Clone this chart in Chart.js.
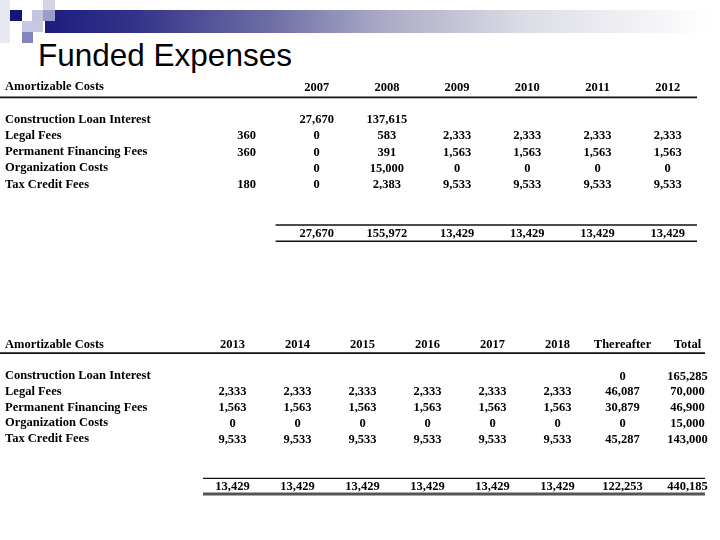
<!DOCTYPE html>
<html>
<head>
<meta charset="utf-8">
<title>Funded Expenses</title>
<script src="https://cdn.jsdelivr.net/npm/chart.js@4.4.1/dist/chart.umd.min.js"></script>
<style>
  html, body { margin: 0; padding: 0; background: #fff; }
  #page { position: relative; width: 720px; height: 540px; overflow: hidden; background: #fff; }
  .sq { position: absolute; }
  #bar {
    position: absolute; left: 45px; top: 10px; width: 665px; height: 23px;
    background: linear-gradient(to right, #1c1c80 0%, #34348a 14%, #6e6ea6 34%, #a8a8c4 50%, #dcdce6 72%, #ffffff 100%);
  }
  #title {
    position: absolute; left: 38px; top: 39px;
    font-family: "Liberation Sans", Arial, sans-serif; font-size: 31.5px; line-height: 32px; color: #000;
  }
  canvas { position: absolute; left: 0; top: 0; }
</style>
</head>
<body>
<div id="page">
  <div id="bar"></div>
  <div class="sq" style="left:0;top:0;width:10px;height:43px;background:#e8e8f2"></div>
  <div class="sq" style="left:10px;top:10px;width:12px;height:11px;background:#14147a"></div>
  <div class="sq" style="left:32px;top:10px;width:12px;height:11px;background:#c4c4de"></div>
  <div class="sq" style="left:43px;top:0;width:12px;height:10px;background:#d4d4e4"></div>
  <div class="sq" style="left:43px;top:10px;width:12px;height:11px;background:#9c9cc8"></div>
  <div class="sq" style="left:22px;top:21px;width:21px;height:11px;background:#c8c8e2"></div>
  <div class="sq" style="left:22px;top:32px;width:11px;height:11px;background:#8484bc"></div>
  <div id="title">Funded Expenses</div>
  <canvas id="table1" width="720" height="540"></canvas>
  <canvas id="table2" width="720" height="540"></canvas>
</div>
<script>
const headerLabel = "Amortizable Costs";
const costItems = [
    "Construction Loan Interest",
    "Legal Fees",
    "Permanent Financing Fees",
    "Organization Costs",
    "Tax Credit Fees",
];

// first block: prior column + 2007..2012
const periods1 = ["", "2007", "2008", "2009", "2010", "2011", "2012"];
const prior = [null, 360, 360, null, 180];
const y2007 = [27670, 0, 0, 0, 0];
const y2008 = [137615, 583, 391, 15000, 2383];
const y2009 = [null, 2333, 1563, 0, 9533];
const y2010 = [null, 2333, 1563, 0, 9533];
const y2011 = [null, 2333, 1563, 0, 9533];
const y2012 = [null, 2333, 1563, 0, 9533];
const totals1 = [null, 27670, 155972, 13429, 13429, 13429, 13429];

// second block: 2013..2018, thereafter, total
const periods2 = ["2013", "2014", "2015", "2016", "2017", "2018", "Thereafter", "Total"];
const y2013 = [null, 2333, 1563, 0, 9533];
const y2014 = [null, 2333, 1563, 0, 9533];
const y2015 = [null, 2333, 1563, 0, 9533];
const y2016 = [null, 2333, 1563, 0, 9533];
const y2017 = [null, 2333, 1563, 0, 9533];
const y2018 = [null, 2333, 1563, 0, 9533];
const thereafter = [0, 46087, 30879, 0, 45287];
const total = [165285, 70000, 46900, 15000, 143000];
const totals2 = [13429, 13429, 13429, 13429, 13429, 13429, 122253, 440185];

// row slots on the y axis (blank slots keep the spacing of the sheet)
const rowSlots = ["head", "gap", ...costItems, "gap2", "gap3", "sum"];

const FONT = 'bold 12.5px "Liberation Serif", "Times New Roman", serif';

function fmt(v) {
    return v.toLocaleString("en-US");
}

function buildDatasets(keys, periods, columns, totals) {
    return keys.map((key, i) => {
        const data = [{ x: key, y: "head", text: periods[i] }];
        columns[i].forEach((v, r) => {
            if (v !== null) data.push({ x: key, y: costItems[r], text: fmt(v) });
        });
        if (totals[i] !== null) data.push({ x: key, y: "sum", text: fmt(totals[i]) });
        return { label: periods[i] || "prior", data: data };
    });
}

const tableText = {
    id: "tableText",
    afterDatasetsDraw(chart, args, opts) {
        const ctx = chart.ctx;
        const xs = chart.scales.x;
        const ys = chart.scales.y;
        const yOf = (slot) => ys.getPixelForValue(rowSlots.indexOf(slot));
        const step = ys.getPixelForValue(1) - ys.getPixelForValue(0);
        const xStep = xs.getPixelForValue(1) - xs.getPixelForValue(0);

        ctx.save();
        ctx.fillStyle = "#000";
        ctx.font = FONT;
        ctx.textBaseline = "middle";

        // row captions
        ctx.textAlign = "left";
        ctx.fillText(headerLabel, 5, yOf("head"));
        costItems.forEach((name) => ctx.fillText(name, 5, yOf(name)));

        // cell values
        ctx.textAlign = "center";
        chart.data.datasets.forEach((ds, d) => {
            const meta = chart.getDatasetMeta(d);
            meta.data.forEach((pt, i) => {
                const t = ds.data[i].text;
                if (t) ctx.fillText(t, pt.x, pt.y + 0.5);
            });
        });

        // rules
        const line = (x0, x1, y, w, color) => {
            ctx.beginPath();
            ctx.lineWidth = w;
            ctx.strokeStyle = color;
            ctx.moveTo(x0, y);
            ctx.lineTo(x1, y);
            ctx.stroke();
        };
        line(0, opts.ruleRight, yOf("head") + step * opts.headRule, 1.6, "#111");
        const sumLeft = xs.getPixelForValue(opts.firstSum) - xStep / 2 + opts.sumInset;
        line(sumLeft, opts.ruleRight, yOf("sum") - step / 2, 1.4, "#111");
        line(sumLeft, opts.ruleRight, yOf("sum") + step / 2, opts.bottomWidth, opts.bottomColor);
        ctx.restore();
    },
};

function makeTable(canvasId, periods, columns, totals, padding, rules) {
    const keys = periods.map((p, i) => "c" + i);
    return new Chart(document.getElementById(canvasId), {
        type: "scatter",
        data: { datasets: buildDatasets(keys, periods, columns, totals) },
        options: {
            responsive: false,
            animation: false,
            events: [],
            layout: { padding: padding, autoPadding: false },
            elements: { point: { radius: 0, hoverRadius: 0, borderWidth: 0 } },
            plugins: {
                legend: { display: false },
                tooltip: { enabled: false },
                tableText: rules,
            },
            scales: {
                x: { type: "category", labels: keys, offset: true, display: false },
                y: { type: "category", labels: rowSlots, offset: true, display: false },
            },
        },
        plugins: [tableText],
    });
}

makeTable(
    "table1",
    periods1,
    [prior, y2007, y2008, y2009, y2010, y2011, y2012],
    totals1,
    { left: 211.4, right: 17.2, top: 78.7, bottom: 298.8 },
    { ruleRight: 697, headRule: 0.65, firstSum: 1, sumInset: -6, bottomWidth: 1.4, bottomColor: "#111" }
);

makeTable(
    "table2",
    periods2,
    [y2013, y2014, y2015, y2016, y2017, y2018, thereafter, total],
    totals2,
    { left: 200, right: 0, top: 336.6, bottom: 45.9 },
    { ruleRight: 705, headRule: 0.55, firstSum: 0, sumInset: 3, bottomWidth: 3, bottomColor: "#555" }
);
</script>
</body>
</html>
